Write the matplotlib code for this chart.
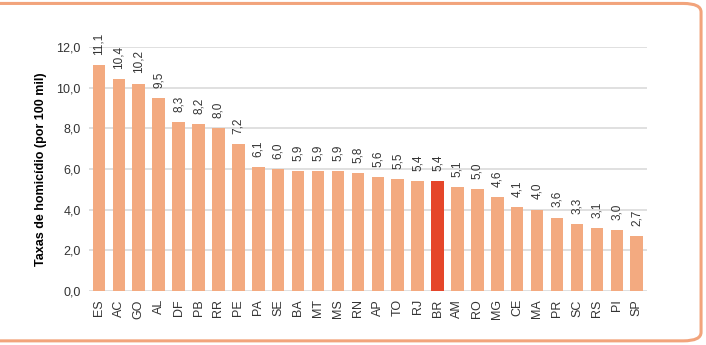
import matplotlib.pyplot as plt
from matplotlib.patches import FancyBboxPatch

plt.rcParams['font.family'] = ['Liberation Sans', 'DejaVu Sans']

estados = ['ES', 'AC', 'GO', 'AL', 'DF', 'PB', 'RR', 'PE', 'PA', 'SE', 'BA', 'MT', 'MS', 'RN',
           'AP', 'TO', 'RJ', 'BR', 'AM', 'RO', 'MG', 'CE', 'MA', 'PR', 'SC', 'RS', 'PI', 'SP']
taxas = [11.1, 10.4, 10.2, 9.5, 8.3, 8.2, 8.0, 7.2, 6.1, 6.0, 5.9, 5.9, 5.9, 5.8,
         5.6, 5.5, 5.4, 5.4, 5.1, 5.0, 4.6, 4.1, 4.0, 3.6, 3.3, 3.1, 3.0, 2.7]
yticks = [0, 2, 4, 6, 8, 10, 12]

COR_BARRA = '#F3AA80'
COR_BR = '#E5462A'
COR_BORDA = '#F2A47C'

fig = plt.figure(figsize=(7.06, 3.45), dpi=100)
ax = fig.add_axes([0.126, 0.157, 0.79, 0.707])

# moldura arredondada (lado esquerdo cortado, como na figura original)
moldura = FancyBboxPatch((-0.03, 0.012), 1.023, 0.978, boxstyle='round,pad=0,rounding_size=0.025',
                         transform=fig.transFigure, fill=False, edgecolor=COR_BORDA, lw=2.2,
                         clip_on=False)
fig.add_artist(moldura)

x = list(range(len(estados)))
cores = [COR_BR if e == 'BR' else COR_BARRA for e in estados]
ax.bar(x, taxas, width=0.63, color=cores, zorder=2)

for xi, v in zip(x, taxas):
    ax.text(xi, v + 0.5, f'{v:.1f}'.replace('.', ','), rotation=90, ha='center', va='bottom',
            fontsize=8.5, color='#333333', clip_on=False)

ax.set_xlim(-0.5, len(estados) - 0.5)
ax.set_ylim(0, 12)
ax.set_yticks(yticks)
ax.set_yticklabels([f'{t:.1f}'.replace('.', ',') for t in yticks], fontsize=9, color='#333333')
ax.set_xticks(x)
ax.set_xticklabels(estados, rotation=90, fontsize=9, color='#333333')
ax.tick_params(length=0, pad=6)
ax.grid(axis='y', color='#E0E0E0', lw=1.4, zorder=0)
for s in ax.spines.values():
    s.set_visible(False)
ax.set_ylabel('Taxas de homicídio (por 100 mil)', fontsize=9, fontweight='bold', labelpad=7)

fig.savefig('out.png', dpi=100)
